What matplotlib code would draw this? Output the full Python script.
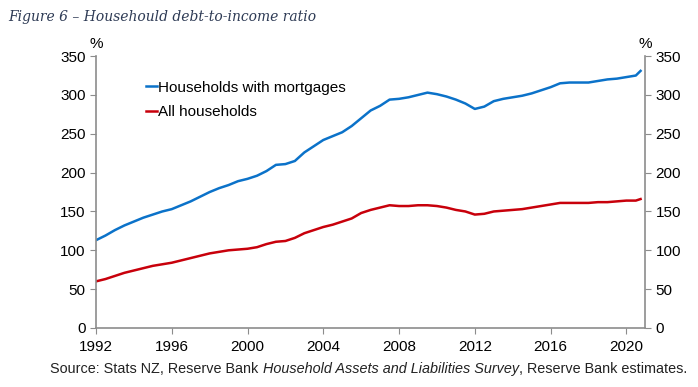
import numpy as np
import matplotlib
matplotlib.use('Agg')
import matplotlib.pyplot as plt

# half-yearly values
years = [1992.0, 1992.5, 1993.0, 1993.5, 1994.0, 1994.5, 1995.0, 1995.5, 1996.0, 1996.5,
         1997.0, 1997.5, 1998.0, 1998.5, 1999.0, 1999.5, 2000.0, 2000.5, 2001.0, 2001.5,
         2002.0, 2002.5, 2003.0, 2003.5, 2004.0, 2004.5, 2005.0, 2005.5, 2006.0, 2006.5,
         2007.0, 2007.5, 2008.0, 2008.5, 2009.0, 2009.5, 2010.0, 2010.5, 2011.0, 2011.5,
         2012.0, 2012.5, 2013.0, 2013.5, 2014.0, 2014.5, 2015.0, 2015.5, 2016.0, 2016.5,
         2017.0, 2017.5, 2018.0, 2018.5, 2019.0, 2019.5, 2020.0, 2020.5, 2020.75]
mortgage = [113, 119, 126, 132, 137, 142, 146, 150, 153, 158,
            163, 169, 175, 180, 184, 189, 192, 196, 202, 210,
            211, 215, 226, 234, 242, 247, 252, 260, 270, 280,
            286, 294, 295, 297, 300, 303, 301, 298, 294, 289,
            282, 285, 292, 295, 297, 299, 302, 306, 310, 315,
            316, 316, 316, 318, 320, 321, 323, 325, 331]
all_hh = [60, 63, 67, 71, 74, 77, 80, 82, 84, 87,
          90, 93, 96, 98, 100, 101, 102, 104, 108, 111,
          112, 116, 122, 126, 130, 133, 137, 141, 148, 152,
          155, 158, 157, 157, 158, 158, 157, 155, 152, 150,
          146, 147, 150, 151, 152, 153, 155, 157, 159, 161,
          161, 161, 161, 162, 162, 163, 164, 164, 166]

fig = plt.figure(figsize=(6.98, 3.87), dpi=100)
ax = fig.add_axes([0.1375, 0.1525, 0.787, 0.7025])

ax.plot(years, mortgage, color='#0b72c9', lw=1.8, label='Households with mortgages')
ax.plot(years, all_hh, color='#c8000b', lw=1.8, label='All households')

ax.set_xlim(1992, 2021)
ax.set_ylim(0, 350)
ax.set_xticks(np.arange(1992, 2021, 4))
ax.set_yticks(np.arange(0, 351, 50))

ax.spines['top'].set_visible(False)
for s in ['left', 'right', 'bottom']:
    ax.spines[s].set_color('#8c8c8c')
    ax.spines[s].set_linewidth(1.2)

ax.tick_params(axis='both', direction='out', length=4, color='#8c8c8c',
               labelsize=11, labelcolor='black', right=True, labelright=True)
for lab in ax.get_xticklabels() + ax.get_yticklabels():
    lab.set_family('Liberation Sans')
ax.tick_params(axis='x', pad=5)

ax.text(0.0, 1.02, '%', transform=ax.transAxes, ha='center', va='bottom',
        fontsize=11, family='Liberation Sans')
ax.text(1.0, 1.02, '%', transform=ax.transAxes, ha='center', va='bottom',
        fontsize=11, family='Liberation Sans')

leg = ax.legend(loc='upper left', bbox_to_anchor=(0.066, 0.96), frameon=False,
                handlelength=0.7, handletextpad=0.1, labelspacing=0.7,
                prop={'family': 'Liberation Sans', 'size': 11})

fig.text(0.012, 0.955, 'Figure 6 \u2013 Househould debt-to-income ratio',
         fontsize=10, style='italic', family='DejaVu Serif', color='#2e3b55',
         ha='left', va='center')

t1 = fig.text(0.072, 0.035, 'Source: Stats NZ, Reserve Bank ', fontsize=10.4,
              family='Liberation Sans', color='#222222', ha='left', va='baseline')
t2 = fig.text(0, 0, 'Household Assets and Liabilities Survey', fontsize=10.4,
              family='Liberation Sans', style='italic', color='#222222', ha='left', va='baseline')
t3 = fig.text(0, 0, ', Reserve Bank estimates.', fontsize=10.4,
              family='Liberation Sans', color='#222222', ha='left', va='baseline')
fig.canvas.draw()
r = fig.canvas.get_renderer()
bb = t1.get_window_extent(r)
t2.set_position((bb.x1 / fig.bbox.width, 0.035))
bb = t2.get_window_extent(r)
t3.set_position((bb.x1 / fig.bbox.width, 0.035))

fig.savefig('out.png', dpi=100)
